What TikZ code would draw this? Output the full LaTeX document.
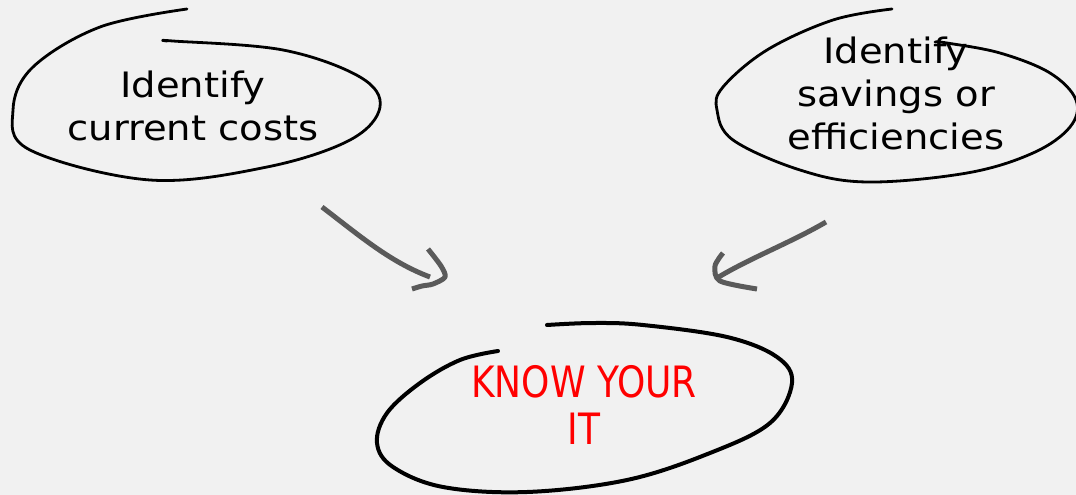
\documentclass[tikz,border=0pt]{standalone}
\usepackage{fontspec}
\setmainfont{DejaVu Sans}
\definecolor{bg}{HTML}{F1F1F1}
\definecolor{arrowgray}{HTML}{5A5A5A}
\definecolor{itred}{HTML}{FF0000}
\newcommand{\wideblock}[3]{\scalebox{#1}[#2]{\begin{tabular}{@{}c@{}}#3\end{tabular}}}
\begin{document}
\begin{tikzpicture}[x=1pt,y=-1pt,
  loop/.style={draw=black,line width=2.8pt,line cap=round,line join=round},
  bigloop/.style={draw=black,line width=4pt,line cap=round,line join=round},
  sketcharrow/.style={draw=arrowgray,line width=5pt,line join=round},
  label/.style={align=center,font=\fontsize{35}{43}\selectfont,text=black,inner sep=0pt},
  redlabel/.style={align=center,font=\fontsize{36}{39}\selectfont,text=itred,inner sep=0pt}]
\useasboundingbox[fill=bg] (0,0) rectangle (1076,495);
% hand drawn loops
\draw[loop] plot[smooth,tension=0.6] coordinates {(187,9) (100,27) (33,67) (13,110) (30,150) (150,180) (267,167) (350,140) (380,107) (360,77) (283,50) (173,41) (167,41)};
\draw[loop] plot[smooth,tension=0.6] coordinates {(892,9) (833,20) (767,50) (723,87) (717,110) (733,140) (800,170) (867,182) (967,173) (1033,153) (1070,127) (1076,100) (1050,73) (1000,53) (947,43) (935,42)};
\draw[bigloop] plot[smooth,tension=0.6] coordinates {(498,351) (460,360) (420,383) (387,413) (377,443) (393,467) (443,487) (527,492) (627,480) (710,453) (770,423) (792,383) (777,357) (727,337) (643,325) (593,323) (547,325)};
% texts
\node[label] (costs) at (193,110) {\wideblock{1.1}{1}{Identify\\current costs}};
\node[label] (savings) at (896,98) {\wideblock{1.1}{1}{Identify\\savings or\\efficiencies}};
\node[redlabel] (knowit) at (584,412) {\wideblock{1}{1.2}{KNOW YOUR\\IT}};
% arrows
\coordinate (a1s) at (322,207);
\coordinate (a1e) at (430,277);
\coordinate (a2s) at (826,222);
\coordinate (a2e) at (717,278);
\draw[sketcharrow] (a1s) .. controls (360,236) and (390,262) .. (a1e);
\draw[sketcharrow] plot[smooth,tension=0.5] coordinates {(428,249) (441,266) (445,277) (433,284) (422,286) (412,289)};
\draw[sketcharrow] (a2s) .. controls (790,243) and (750,258) .. (a2e);
\draw[sketcharrow] plot[smooth,tension=0.5] coordinates {(723,253) (715,266) (720,281) (757,289)};
\end{tikzpicture}
\end{document}
